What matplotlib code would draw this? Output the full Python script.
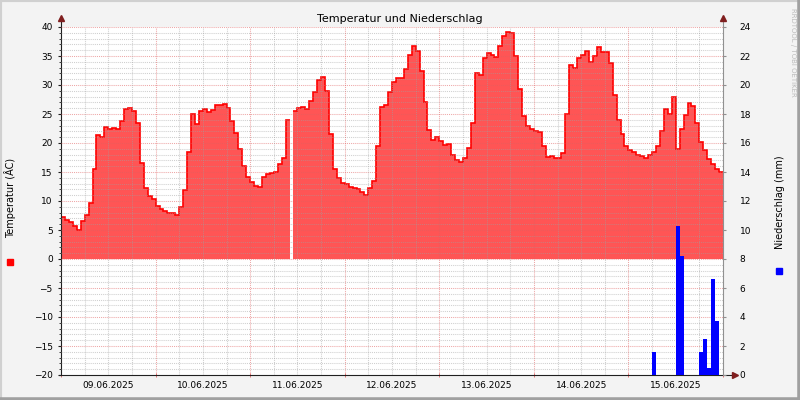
import numpy as np
import matplotlib.pyplot as plt
from matplotlib.patches import Rectangle
from matplotlib.lines import Line2D

# Tage (Beschriftung jeweils zur Tagesmitte)
days = ['09.06.2025', '10.06.2025', '11.06.2025', '12.06.2025',
        '13.06.2025', '14.06.2025', '15.06.2025']

# Temperatur in °C, stündlich
temp_0906 = [7.3, 6.8, 6.3, 5.7, 5.0, 6.5, 7.6, 9.6, 15.5, 21.3, 21.0, 22.7,
             22.5, 22.6, 22.4, 23.8, 25.8, 26.1, 25.6, 23.5, 16.5, 12.3, 10.8, 10.3]
temp_1006 = [9.2, 8.7, 8.2, 8.0, 8.0, 7.6, 9.0, 11.9, 18.5, 25.0, 23.3, 25.6,
             25.8, 25.3, 25.7, 26.6, 26.5, 26.8, 26.0, 23.8, 21.8, 19.0, 16.0, 14.1]
temp_1106 = [13.2, 12.6, 12.4, 14.2, 14.6, 14.8, 15.0, 16.3, 17.5, 24.0, np.nan, 25.5,
             26.0, 26.2, 25.9, 27.2, 28.8, 30.9, 31.3, 29.0, 21.5, 15.5, 14.0, 13.1]
temp_1206 = [13.0, 12.4, 12.2, 12.0, 11.6, 11.0, 12.2, 13.5, 19.5, 26.2, 26.6, 28.8,
             30.5, 31.2, 31.2, 32.8, 35.2, 36.8, 35.9, 32.5, 27.0, 22.2, 20.6, 21.0]
temp_1306 = [20.3, 19.6, 19.9, 18.0, 17.0, 16.8, 17.5, 19.2, 23.5, 32.0, 31.8, 34.6,
             35.5, 35.2, 34.9, 36.8, 38.4, 39.1, 38.9, 35.0, 29.3, 24.6, 23.0, 22.5]
temp_1406 = [22.1, 21.9, 19.5, 17.6, 17.8, 17.5, 17.5, 18.3, 25.0, 33.5, 33.0, 34.6,
             35.2, 35.8, 34.0, 35.0, 36.5, 35.7, 35.7, 33.8, 28.3, 24.0, 21.5, 19.5]
temp_1506 = [18.8, 18.4, 18.0, 17.7, 17.5, 17.9, 18.5, 19.5, 22.0, 25.8, 25.0, 27.9,
             19.0, 22.5, 24.8, 26.9, 26.3, 23.5, 20.2, 18.8, 17.3, 16.4, 15.5, 15.0]

# Niederschlag in mm (Stunde seit 09.06. 00:00)
prec_hours = [150, 156, 157, 162, 163, 164, 165, 166]
prec_mm = [1.6, 10.3, 8.2, 1.6, 2.5, 0.5, 6.6, 3.7]

temp = np.array(temp_0906 + temp_1006 + temp_1106 + temp_1206 +
                temp_1306 + temp_1406 + temp_1506, dtype=float)
edges = np.arange(len(temp) + 1)
n_hours = len(temp)

fig = plt.figure(figsize=(8, 4), dpi=100, facecolor='#f3f3f3')
ax = fig.add_axes([61/800, 25/400, 662/800, 348/400])
ax.set_facecolor('white')
ax.set_xlim(0, n_hours)
ax.set_ylim(-20, 40)

# Temperaturflaeche, an Luecken aufgeteilt
ok = ~np.isnan(temp)
start = None
for i in range(n_hours + 1):
    if i < n_hours and ok[i]:
        if start is None:
            start = i
    elif start is not None:
        ax.stairs(temp[start:i], edges[start:i + 1], baseline=0, fill=True,
                  color='#ff5555', lw=0, zorder=1)
        ax.stairs(temp[start:i], edges[start:i + 1], baseline=None,
                  color='#ff0000', lw=1.2, zorder=2)
        start = None

# Gitter (ueber der Flaeche, wie bei rrdtool)
dots = (0, (1, 1))
for v in range(-19, 41):
    if v % 5 == 0:
        ax.axhline(v, color='#e06060', alpha=0.55, lw=0.75, ls=dots, zorder=3)
    else:
        ax.axhline(v, color='#a0a0a0', alpha=0.5, lw=0.75, ls=dots, zorder=3)
for h in range(6, n_hours, 6):
    if h % 24 == 0:
        ax.axvline(h, color='#e06060', alpha=0.55, lw=0.75, ls=dots, zorder=3)
    else:
        ax.axvline(h, color='#a0a0a0', alpha=0.5, lw=0.75, ls=dots, zorder=3)

# Achsen
for s in ['top', 'right', 'left', 'bottom']:
    ax.spines[s].set_visible(False)
ax.plot([0, 0], [0, 1.02], transform=ax.transAxes, color='#202020', lw=0.8, clip_on=False)
ax.plot([-0.003, 1.015], [0, 0], transform=ax.transAxes, color='#202020', lw=0.8, clip_on=False)
ax.plot(0, 1.025, marker='^', ms=4, color='#801f1f', transform=ax.transAxes, clip_on=False)
ax.plot(1.018, 0, marker='>', ms=4, color='#801f1f', transform=ax.transAxes, clip_on=False)

ax.set_yticks(range(-20, 41, 5))
ax.set_yticks(range(-20, 41), minor=True)
ax.tick_params(axis='y', which='major', length=2, pad=4, labelsize=6.5, color='#202020')
ax.tick_params(axis='y', which='minor', length=1.5, color='#202020')
ax.set_xticks(np.arange(12, n_hours, 24), days)
ax.set_xticks(np.arange(0, n_hours + 1, 24), minor=True)
ax.tick_params(axis='x', which='major', length=0, pad=4, labelsize=6.5)
ax.tick_params(axis='x', which='minor', length=3, color='#e06060', direction='inout')

# Niederschlag auf rechter Achse
ax2 = ax.twinx()
ax2.set_ylim(0, 24)
ax2.bar(prec_hours, prec_mm, width=1, align='edge', color='#0000ff', zorder=4)
for s in ['top', 'right', 'left', 'bottom']:
    ax2.spines[s].set_visible(False)
ax2.plot([1, 1], [0, 1.02], transform=ax2.transAxes, color='#909090', lw=0.8, clip_on=False)
ax2.plot(1, 1.025, marker='^', ms=4, color='#801f1f', transform=ax2.transAxes, clip_on=False)
ax2.set_yticks(range(0, 25, 2))
ax2.tick_params(axis='y', length=2, pad=10, labelsize=6.5, color='#909090')

# Texte
fig.text(0.5, 1 - 19/400, 'Temperatur und Niederschlag', ha='center', va='center', fontsize=8)
fig.text(10/800, 1 - 198/400, 'Temperatur (ÂC)', rotation=90, ha='center', va='center', fontsize=7)
fig.text(780/800, 1 - 202/400, 'Niederschlag (mm)', rotation=90, ha='center', va='center', fontsize=7)
fig.text(793/800, 1 - 52/400, 'RRDTOOL / TOBI OETIKER', rotation=270, ha='center', va='center',
         fontsize=5, color='#bbbbbb')

# Legendenquadrate
fig.add_artist(Rectangle((7/800, 1 - 265/400), 6/800, 6/400, color='#ff0000', transform=fig.transFigure))
fig.add_artist(Rectangle((776/800, 1 - 274/400), 6/800, 6/400, color='#0000ff', transform=fig.transFigure))

# Rahmen
fig.add_artist(Line2D([0, 1], [1, 1], color='#d0d0d0', lw=3, transform=fig.transFigure))
fig.add_artist(Line2D([0, 0], [0, 1], color='#d0d0d0', lw=3, transform=fig.transFigure))
fig.add_artist(Line2D([1, 1], [0, 1], color='#a0a0a0', lw=4, transform=fig.transFigure))
fig.add_artist(Line2D([0, 1], [0, 0], color='#a0a0a0', lw=4, transform=fig.transFigure))

fig.savefig('out.png', dpi=100, facecolor=fig.get_facecolor())
